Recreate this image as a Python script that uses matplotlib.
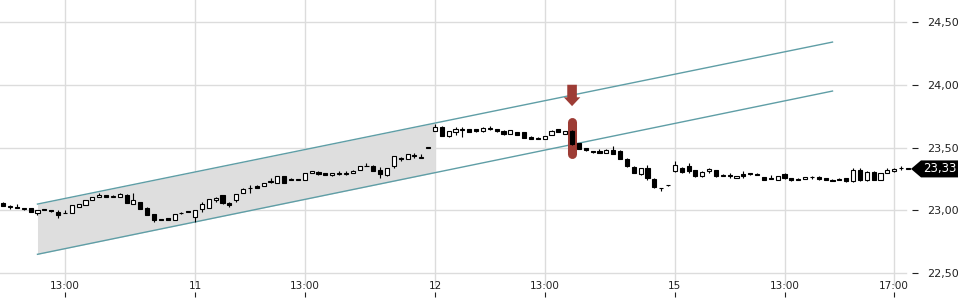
import numpy as np
import matplotlib
matplotlib.use('Agg')
import matplotlib.pyplot as plt
from matplotlib.patches import Polygon
from matplotlib.transforms import IdentityTransform

# 15 min candles, index 0 = 10:45 of the first day
opens = [23.055, 23.025, 23.03, 23.01, 23.02, 22.98, 23.008, 23.0, 22.99, 22.975,
         22.98, 23.03, 23.04, 23.08, 23.11, 23.12, 23.11, 23.11, 23.12, 23.05,
         23.07, 23.02, 22.97, 22.93, 22.94, 22.92, 22.975, 22.99,
         22.95, 23.01, 23.02, 23.08, 23.12, 23.055, 23.08, 23.14, 23.175, 23.195,
         23.19, 23.225, 23.22, 23.27, 23.25, 23.24, 23.245, 23.295, 23.305, 23.295,
         23.28, 23.29, 23.29, 23.30, 23.32, 23.35, 23.355, 23.32, 23.28, 23.35,
         23.415, 23.41, 23.44, 23.42, 23.495,
         23.63, 23.665, 23.59, 23.62, 23.64, 23.645, 23.645, 23.63, 23.65, 23.645,
         23.635, 23.61, 23.62, 23.62, 23.585, 23.58, 23.57, 23.60, 23.645, 23.61,
         23.635, 23.535, 23.495, 23.475, 23.47, 23.46, 23.48, 23.47, 23.41, 23.345,
         23.29, 23.335, 23.25, 23.18, 23.20,
         23.315, 23.34, 23.355, 23.32, 23.27, 23.31, 23.32, 23.275, 23.285, 23.26,
         23.29, 23.29, 23.288, 23.265, 23.25, 23.245, 23.29, 23.258, 23.25, 23.25,
         23.262, 23.265, 23.255, 23.245, 23.245, 23.255, 23.235, 23.32, 23.24, 23.305,
         23.245, 23.30, 23.31, 23.335, 23.33]
highs = [23.065, 23.04, 23.05, 23.02, 23.02, 23.00, 23.01, 23.0, 23.0, 23.0,
         23.04, 23.05, 23.08, 23.11, 23.14, 23.125, 23.125, 23.135, 23.13, 23.14,
         23.07, 23.03, 22.97, 22.93, 22.94, 22.97, 22.99, 22.99,
         23.00, 23.07, 23.09, 23.11, 23.12, 23.07, 23.13, 23.18, 23.20, 23.20,
         23.22, 23.26, 23.275, 23.275, 23.255, 23.25, 23.30, 23.315, 23.31, 23.30,
         23.30, 23.315, 23.31, 23.32, 23.355, 23.38, 23.36, 23.345, 23.34, 23.43,
         23.425, 23.45, 23.455, 23.45, 23.50,
         23.69, 23.67, 23.635, 23.66, 23.665, 23.65, 23.65, 23.66, 23.67, 23.65,
         23.64, 23.64, 23.62, 23.62, 23.59, 23.585, 23.59, 23.64, 23.65, 23.635,
         23.64, 23.54, 23.50, 23.475, 23.49, 23.485, 23.51, 23.48, 23.415, 23.35,
         23.335, 23.36, 23.255, 23.18, 23.20,
         23.39, 23.345, 23.38, 23.325, 23.31, 23.34, 23.32, 23.29, 23.295, 23.275,
         23.31, 23.295, 23.295, 23.268, 23.28, 23.275, 23.295, 23.26, 23.255, 23.268,
         23.275, 23.275, 23.255, 23.247, 23.255, 23.255, 23.34, 23.335, 23.31, 23.31,
         23.298, 23.335, 23.335, 23.35, 23.332]
lows = [23.035, 23.01, 23.02, 23.005, 22.99, 22.96, 23.0, 22.99, 22.94, 22.975,
        22.98, 23.03, 23.04, 23.08, 23.11, 23.11, 23.11, 23.11, 23.06, 23.05,
        23.01, 22.96, 22.91, 22.92, 22.92, 22.92, 22.97, 22.985,
        22.91, 22.99, 23.02, 23.07, 23.05, 23.03, 23.07, 23.14, 23.14, 23.175,
        23.19, 23.22, 23.22, 23.215, 23.24, 23.24, 23.24, 23.295, 23.285, 23.28,
        23.275, 23.285, 23.285, 23.30, 23.32, 23.35, 23.31, 23.26, 23.275, 23.34,
        23.39, 23.41, 23.42, 23.42, 23.495,
        23.63, 23.59, 23.585, 23.60, 23.585, 23.62, 23.625, 23.625, 23.64, 23.625,
        23.60, 23.605, 23.60, 23.575, 23.565, 23.57, 23.565, 23.60, 23.62, 23.605,
        23.52, 23.485, 23.475, 23.455, 23.46, 23.46, 23.45, 23.405, 23.345, 23.295,
        23.285, 23.245, 23.18, 23.155, 23.195,
        23.305, 23.30, 23.30, 23.265, 23.265, 23.30, 23.265, 23.275, 23.26, 23.255,
        23.255, 23.285, 23.283, 23.242, 23.25, 23.24, 23.25, 23.235, 23.238, 23.248,
        23.25, 23.242, 23.238, 23.235, 23.238, 23.224, 23.228, 23.235, 23.235, 23.242,
        23.242, 23.295, 23.308, 23.325, 23.328]
closes = [23.035, 23.028, 23.02, 23.02, 22.99, 23.00, 23.005, 22.995, 22.96, 22.98,
          23.04, 23.05, 23.08, 23.11, 23.12, 23.11, 23.115, 23.13, 23.06, 23.08,
          23.01, 22.96, 22.92, 22.925, 22.92, 22.97, 22.98, 22.988,
          23.00, 23.05, 23.09, 23.10, 23.06, 23.045, 23.13, 23.17, 23.18, 23.18,
          23.22, 23.23, 23.27, 23.22, 23.245, 23.245, 23.295, 23.31, 23.29, 23.28,
          23.295, 23.292, 23.292, 23.315, 23.35, 23.355, 23.31, 23.29, 23.335, 23.43,
          23.405, 23.445, 23.43, 23.425, 23.50,
          23.665, 23.595, 23.63, 23.65, 23.642, 23.625, 23.63, 23.655, 23.652, 23.63,
          23.605, 23.64, 23.60, 23.58, 23.565, 23.572, 23.59, 23.635, 23.625, 23.63,
          23.525, 23.49, 23.48, 23.468, 23.46, 23.48, 23.45, 23.41, 23.35, 23.30,
          23.335, 23.255, 23.185, 23.175, 23.198,
          23.36, 23.305, 23.31, 23.27, 23.305, 23.33, 23.27, 23.28, 23.275, 23.273,
          23.275, 23.288, 23.285, 23.245, 23.255, 23.27, 23.255, 23.238, 23.24, 23.265,
          23.264, 23.252, 23.24, 23.236, 23.24, 23.235, 23.32, 23.24, 23.305, 23.245,
          23.295, 23.32, 23.33, 23.337, 23.33]

tick_pos = [9, 28, 44, 63, 79, 98, 114, 130]
tick_labels = ['13:00', '11', '13:00', '12', '13:00', '15', '13:00', '17:00']
y_ticks = [22.5, 23.0, 23.5, 24.0, 24.5]
y_labels = ['22,50', '23,00', '23,50', '24,00', '24,50']

# trend channel
channel_x = [5, 121]
channel_upper = [23.05, 24.34]
channel_lower = [22.65, 23.95]
fill_end = 63

# signal marker
signal_idx = 83
signal_low, signal_high = 23.42, 23.73
arrow_top, arrow_tip = 24.00, 23.83

red = '#9d3c35'
grid_col = '#dcdcdc'

fig = plt.figure(figsize=(9.6, 3.0), dpi=100)
ax = fig.add_axes([0, 0.01, 0.95, 0.99])
ax.set_xlim(-0.47, 132.6)
ax.set_ylim(22.31, 24.675)

for y in y_ticks:
    ax.axhline(y, xmax=0.993, color=grid_col, lw=1, zorder=0)
for x in tick_pos:
    ax.axvline(x, ymin=0.04, color=grid_col, lw=1, zorder=0)

xs = [channel_x[0], fill_end]
ax.fill_between(xs, np.interp(xs, channel_x, channel_lower),
                np.interp(xs, channel_x, channel_upper), color='#dedede', lw=0, zorder=1)
ax.plot(channel_x, channel_upper, color='#5f9ea6', lw=1, zorder=2)
ax.plot(channel_x, channel_lower, color='#5f9ea6', lw=1, zorder=2)

ax.plot([signal_idx, signal_idx], [signal_low + 0.03, signal_high - 0.03], lw=6.5,
        color=red, solid_capstyle='round', zorder=3)
ax.arrow(signal_idx, arrow_top, 0, arrow_tip - arrow_top, width=1.4, head_width=2.4,
         head_length=0.07, length_includes_head=True, color=red, lw=0, zorder=3)

# candles
o = np.array(opens)
h = np.array(highs)
l = np.array(lows)
c = np.array(closes)
idx = np.arange(len(o))
up = c >= o
ax.vlines(idx, l, h, color='black', lw=0.8, zorder=4)
ax.bar(idx, np.maximum(np.abs(c - o), 0.006), bottom=np.minimum(o, c), width=0.6,
       color=np.where(up, 'white', 'black'), edgecolor='black', linewidth=0.8, zorder=5)

ax.set_xticks(tick_pos, tick_labels)
ax.set_yticks(y_ticks, y_labels)
ax.yaxis.tick_right()
ax.tick_params(axis='y', length=4, width=0.8, pad=7, labelsize=8, colors='#222222')
ax.tick_params(axis='x', direction='in', length=3.5, width=0.8, pad=-11.5, labelsize=7.5,
               colors='#222222')
for s in ax.spines.values():
    s.set_visible(False)

# last price tag
last_price = closes[-1]
yd = ax.transData.transform((0, last_price))[1]
verts = [(911, yd), (921, yd + 8.5), (958, yd + 8.5), (958, yd - 8.5), (921, yd - 8.5)]
fig.add_artist(Polygon(verts, closed=True, fc='black', ec='none', transform=IdentityTransform()))
fig.text(940 / 960, yd / 300, f"{last_price:.2f}".replace('.', ','), color='white',
         fontsize=8.5, ha='center', va='center')

fig.savefig('out.png', dpi=100)
